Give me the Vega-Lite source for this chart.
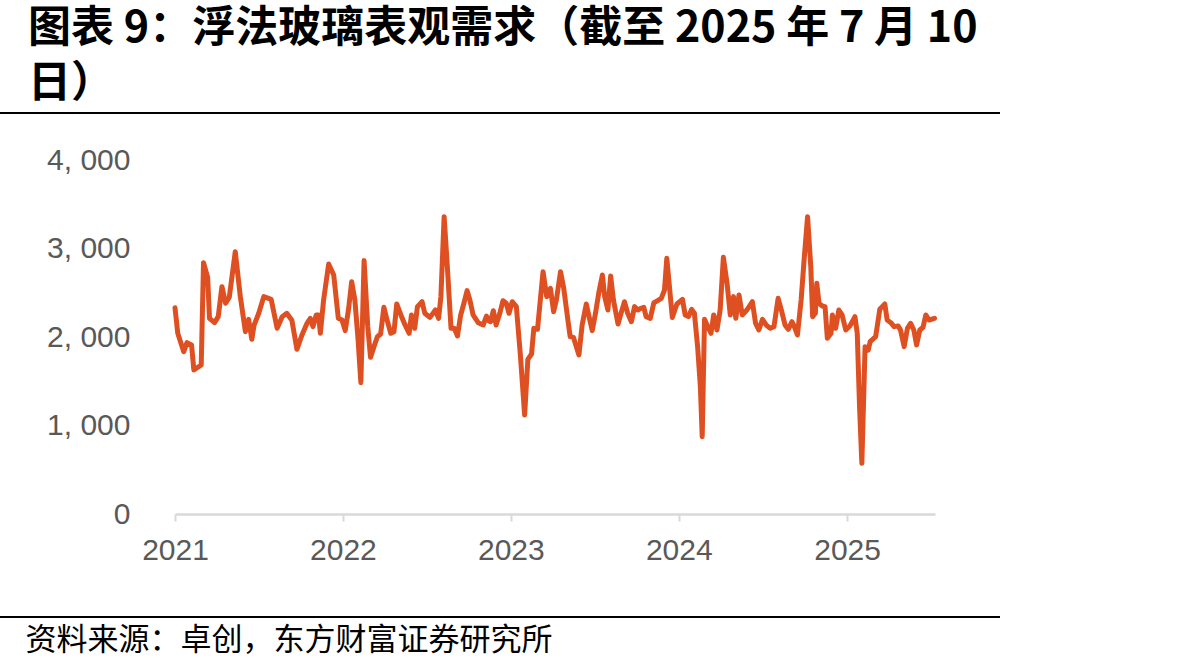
{
  "$schema": "https://vega.github.io/schema/vega-lite/v6.json",
  "width": 760,
  "height": 354,
  "autosize": {"type": "none"},
  "padding": {"left": 175, "top": 160, "right": 257, "bottom": 156},
  "background": "white",
  "title": {
    "text": ["图表 9：浮法玻璃表观需求（截至 2025 年 7 月 10", "日）"],
    "anchor": "start",
    "frame": "group",
    "dx": -147,
    "offset": 6,
    "font": "Noto Sans CJK SC",
    "fontSize": 43,
    "fontWeight": "bold",
    "color": "#000000",
    "lineHeight": 55
  },
  "data": {
    "values": [
      {"date": "2021-01-01", "value": 2330},
      {"date": "2021-01-07", "value": 2042},
      {"date": "2021-01-20", "value": 1834},
      {"date": "2021-01-27", "value": 1936},
      {"date": "2021-02-06", "value": 1910},
      {"date": "2021-02-11", "value": 1627},
      {"date": "2021-02-27", "value": 1684},
      {"date": "2021-03-04", "value": 2840},
      {"date": "2021-03-13", "value": 2674},
      {"date": "2021-03-17", "value": 2211},
      {"date": "2021-03-28", "value": 2162},
      {"date": "2021-04-05", "value": 2230},
      {"date": "2021-04-13", "value": 2569},
      {"date": "2021-04-21", "value": 2381},
      {"date": "2021-04-29", "value": 2449},
      {"date": "2021-05-12", "value": 2964},
      {"date": "2021-05-23", "value": 2456},
      {"date": "2021-06-03", "value": 2060},
      {"date": "2021-06-10", "value": 2200},
      {"date": "2021-06-17", "value": 1974},
      {"date": "2021-06-22", "value": 2136},
      {"date": "2021-07-02", "value": 2268},
      {"date": "2021-07-13", "value": 2456},
      {"date": "2021-07-29", "value": 2426},
      {"date": "2021-08-11", "value": 2098},
      {"date": "2021-08-22", "value": 2230},
      {"date": "2021-09-01", "value": 2268},
      {"date": "2021-09-12", "value": 2190},
      {"date": "2021-09-23", "value": 1861},
      {"date": "2021-10-04", "value": 2023},
      {"date": "2021-10-15", "value": 2155},
      {"date": "2021-10-22", "value": 2211},
      {"date": "2021-10-28", "value": 2117},
      {"date": "2021-11-04", "value": 2249},
      {"date": "2021-11-09", "value": 2249},
      {"date": "2021-11-13", "value": 2042},
      {"date": "2021-11-20", "value": 2418},
      {"date": "2021-12-01", "value": 2825},
      {"date": "2021-12-12", "value": 2701},
      {"date": "2021-12-22", "value": 2211},
      {"date": "2021-12-30", "value": 2192},
      {"date": "2022-01-06", "value": 2072},
      {"date": "2022-01-13", "value": 2305},
      {"date": "2022-01-20", "value": 2625},
      {"date": "2022-01-27", "value": 2418},
      {"date": "2022-02-03", "value": 1966},
      {"date": "2022-02-09", "value": 1484},
      {"date": "2022-02-16", "value": 2863},
      {"date": "2022-02-24", "value": 2117},
      {"date": "2022-03-02", "value": 1770},
      {"date": "2022-03-12", "value": 1929},
      {"date": "2022-03-17", "value": 2004},
      {"date": "2022-03-24", "value": 2034},
      {"date": "2022-03-31", "value": 2335},
      {"date": "2022-04-07", "value": 2192},
      {"date": "2022-04-15", "value": 2042},
      {"date": "2022-04-22", "value": 2060},
      {"date": "2022-04-28", "value": 2373},
      {"date": "2022-05-07", "value": 2249},
      {"date": "2022-05-16", "value": 2136},
      {"date": "2022-05-25", "value": 2042},
      {"date": "2022-05-30", "value": 2249},
      {"date": "2022-06-06", "value": 2098},
      {"date": "2022-06-12", "value": 2343},
      {"date": "2022-06-22", "value": 2399},
      {"date": "2022-06-28", "value": 2268},
      {"date": "2022-07-09", "value": 2222},
      {"date": "2022-07-16", "value": 2268},
      {"date": "2022-07-21", "value": 2305},
      {"date": "2022-07-28", "value": 2211},
      {"date": "2022-08-02", "value": 2456},
      {"date": "2022-08-09", "value": 3360},
      {"date": "2022-08-16", "value": 2795},
      {"date": "2022-08-24", "value": 2098},
      {"date": "2022-08-31", "value": 2098},
      {"date": "2022-09-07", "value": 2011},
      {"date": "2022-09-14", "value": 2249},
      {"date": "2022-09-21", "value": 2381},
      {"date": "2022-09-28", "value": 2524},
      {"date": "2022-10-04", "value": 2418},
      {"date": "2022-10-11", "value": 2249},
      {"date": "2022-10-22", "value": 2162},
      {"date": "2022-11-02", "value": 2136},
      {"date": "2022-11-09", "value": 2237},
      {"date": "2022-11-14", "value": 2184},
      {"date": "2022-11-18", "value": 2173},
      {"date": "2022-11-24", "value": 2297},
      {"date": "2022-11-30", "value": 2136},
      {"date": "2022-12-08", "value": 2268},
      {"date": "2022-12-15", "value": 2410},
      {"date": "2022-12-22", "value": 2381},
      {"date": "2022-12-28", "value": 2268},
      {"date": "2023-01-04", "value": 2399},
      {"date": "2023-01-13", "value": 2343},
      {"date": "2023-01-22", "value": 1778},
      {"date": "2023-01-31", "value": 1119},
      {"date": "2023-02-07", "value": 1748},
      {"date": "2023-02-15", "value": 1808},
      {"date": "2023-02-20", "value": 2098},
      {"date": "2023-02-28", "value": 2087},
      {"date": "2023-03-12", "value": 2738},
      {"date": "2023-03-20", "value": 2456},
      {"date": "2023-03-28", "value": 2550},
      {"date": "2023-04-04", "value": 2286},
      {"date": "2023-04-10", "value": 2418},
      {"date": "2023-04-19", "value": 2738},
      {"date": "2023-04-26", "value": 2550},
      {"date": "2023-05-05", "value": 2192},
      {"date": "2023-05-10", "value": 2004},
      {"date": "2023-05-17", "value": 1996},
      {"date": "2023-05-29", "value": 1797},
      {"date": "2023-06-05", "value": 2136},
      {"date": "2023-06-14", "value": 2373},
      {"date": "2023-06-20", "value": 2230},
      {"date": "2023-06-27", "value": 2072},
      {"date": "2023-07-04", "value": 2268},
      {"date": "2023-07-11", "value": 2494},
      {"date": "2023-07-19", "value": 2701},
      {"date": "2023-07-24", "value": 2456},
      {"date": "2023-07-31", "value": 2305},
      {"date": "2023-08-06", "value": 2689},
      {"date": "2023-08-12", "value": 2418},
      {"date": "2023-08-22", "value": 2147},
      {"date": "2023-08-29", "value": 2275},
      {"date": "2023-09-05", "value": 2399},
      {"date": "2023-09-12", "value": 2268},
      {"date": "2023-09-20", "value": 2173},
      {"date": "2023-09-27", "value": 2343},
      {"date": "2023-10-04", "value": 2305},
      {"date": "2023-10-11", "value": 2324},
      {"date": "2023-10-17", "value": 2335},
      {"date": "2023-10-22", "value": 2230},
      {"date": "2023-10-31", "value": 2211},
      {"date": "2023-11-08", "value": 2388},
      {"date": "2023-11-16", "value": 2410},
      {"date": "2023-11-24", "value": 2437},
      {"date": "2023-12-01", "value": 2531},
      {"date": "2023-12-06", "value": 2889},
      {"date": "2023-12-18", "value": 2220},
      {"date": "2023-12-28", "value": 2373},
      {"date": "2024-01-09", "value": 2426},
      {"date": "2024-01-15", "value": 2249},
      {"date": "2024-01-22", "value": 2230},
      {"date": "2024-01-29", "value": 2313},
      {"date": "2024-02-04", "value": 2268},
      {"date": "2024-02-11", "value": 1891},
      {"date": "2024-02-17", "value": 1439},
      {"date": "2024-02-21", "value": 874},
      {"date": "2024-02-26", "value": 2200},
      {"date": "2024-03-04", "value": 2117},
      {"date": "2024-03-11", "value": 2042},
      {"date": "2024-03-17", "value": 2249},
      {"date": "2024-03-24", "value": 2079},
      {"date": "2024-03-31", "value": 2305},
      {"date": "2024-04-07", "value": 2900},
      {"date": "2024-04-15", "value": 2607},
      {"date": "2024-04-22", "value": 2249},
      {"date": "2024-04-29", "value": 2456},
      {"date": "2024-05-04", "value": 2211},
      {"date": "2024-05-11", "value": 2475},
      {"date": "2024-05-18", "value": 2249},
      {"date": "2024-05-28", "value": 2305},
      {"date": "2024-06-09", "value": 2399},
      {"date": "2024-06-16", "value": 2155},
      {"date": "2024-06-23", "value": 2079},
      {"date": "2024-07-01", "value": 2200},
      {"date": "2024-07-09", "value": 2136},
      {"date": "2024-07-18", "value": 2098},
      {"date": "2024-07-26", "value": 2117},
      {"date": "2024-08-04", "value": 2437},
      {"date": "2024-08-11", "value": 2305},
      {"date": "2024-08-19", "value": 2136},
      {"date": "2024-08-26", "value": 2087},
      {"date": "2024-09-03", "value": 2173},
      {"date": "2024-09-08", "value": 2120},
      {"date": "2024-09-15", "value": 2023},
      {"date": "2024-09-23", "value": 2418},
      {"date": "2024-09-30", "value": 2908},
      {"date": "2024-10-07", "value": 3360},
      {"date": "2024-10-14", "value": 2795},
      {"date": "2024-10-18", "value": 2230},
      {"date": "2024-10-24", "value": 2268},
      {"date": "2024-10-27", "value": 2607},
      {"date": "2024-11-01", "value": 2381},
      {"date": "2024-11-08", "value": 2350},
      {"date": "2024-11-14", "value": 2343},
      {"date": "2024-11-19", "value": 1985},
      {"date": "2024-11-27", "value": 2042},
      {"date": "2024-11-30", "value": 2249},
      {"date": "2024-12-07", "value": 2098},
      {"date": "2024-12-14", "value": 2305},
      {"date": "2024-12-21", "value": 2249},
      {"date": "2024-12-29", "value": 2079},
      {"date": "2025-01-07", "value": 2124},
      {"date": "2025-01-18", "value": 2230},
      {"date": "2025-01-23", "value": 2042},
      {"date": "2025-01-28", "value": 1213},
      {"date": "2025-02-02", "value": 573},
      {"date": "2025-02-09", "value": 1891},
      {"date": "2025-02-16", "value": 1853},
      {"date": "2025-02-20", "value": 1947},
      {"date": "2025-03-04", "value": 2004},
      {"date": "2025-03-13", "value": 2313},
      {"date": "2025-03-24", "value": 2373},
      {"date": "2025-03-29", "value": 2192},
      {"date": "2025-04-06", "value": 2162},
      {"date": "2025-04-13", "value": 2117},
      {"date": "2025-04-22", "value": 2124},
      {"date": "2025-04-27", "value": 2079},
      {"date": "2025-05-05", "value": 1891},
      {"date": "2025-05-12", "value": 2098},
      {"date": "2025-05-19", "value": 2155},
      {"date": "2025-05-26", "value": 2079},
      {"date": "2025-06-01", "value": 1910},
      {"date": "2025-06-08", "value": 2079},
      {"date": "2025-06-15", "value": 2110},
      {"date": "2025-06-21", "value": 2249},
      {"date": "2025-06-28", "value": 2192},
      {"date": "2025-07-10", "value": 2211}
    ]
  },
  "layer": [
    {
      "mark": {"type": "line", "color": "#DE5021", "strokeWidth": 5, "strokeJoin": "round", "strokeCap": "round"},
      "encoding": {
        "x": {
          "field": "date",
          "type": "temporal",
          "scale": {"domain": [{"year": 2021, "month": 1, "date": 1}, {"year": 2025, "month": 7, "date": 11}]},
          "axis": {
            "format": "%Y",
            "tickCount": {"interval": "year", "step": 1},
            "grid": false,
            "domainColor": "#d9d9d9",
            "domainWidth": 2.5,
            "tickColor": "#d9d9d9",
            "tickWidth": 2,
            "tickSize": 7,
            "labelFont": "Liberation Sans",
            "labelFontSize": 30,
            "labelColor": "#595959",
            "labelPadding": 14,
            "labelFlush": false,
            "title": "资料来源：卓创，东方财富证券研究所",
            "titleFont": "Noto Sans CJK SC",
            "titleFontSize": 31,
            "titleFontWeight": "normal",
            "titleColor": "#000000",
            "titleAlign": "left",
            "titleAnchor": null,
            "titleBaseline": "middle",
            "titleX": -150,
            "titleY": 126
          }
        },
        "y": {
          "field": "value",
          "type": "quantitative",
          "scale": {"domain": [0, 4000], "nice": false},
          "axis": {
            "values": [0, 1000, 2000, 3000, 4000],
            "labelExpr": "replace(format(datum.value, ','), ',', ', ')",
            "grid": false,
            "domain": false,
            "ticks": false,
            "tickSize": 0,
            "labelFont": "Liberation Sans",
            "labelFontSize": 30,
            "labelColor": "#595959",
            "labelPadding": 45,
            "title": null
          }
        }
      }
    },
    {
      "mark": {"type": "rule", "color": "#000000", "strokeWidth": 2},
      "encoding": {
        "x": {"datum": {"year": 2019, "month": 12, "date": 19}, "type": "temporal"},
        "x2": {"datum": {"year": 2025, "month": 11, "date": 29}},
        "y": {"datum": 4531, "type": "quantitative"}
      }
    },
    {
      "mark": {"type": "rule", "color": "#000000", "strokeWidth": 2},
      "encoding": {
        "x": {"datum": {"year": 2019, "month": 12, "date": 19}, "type": "temporal"},
        "x2": {"datum": {"year": 2025, "month": 11, "date": 29}},
        "y": {"datum": -1164, "type": "quantitative"}
      }
    }
  ],
  "config": {
    "view": {"stroke": null}
  }
}
